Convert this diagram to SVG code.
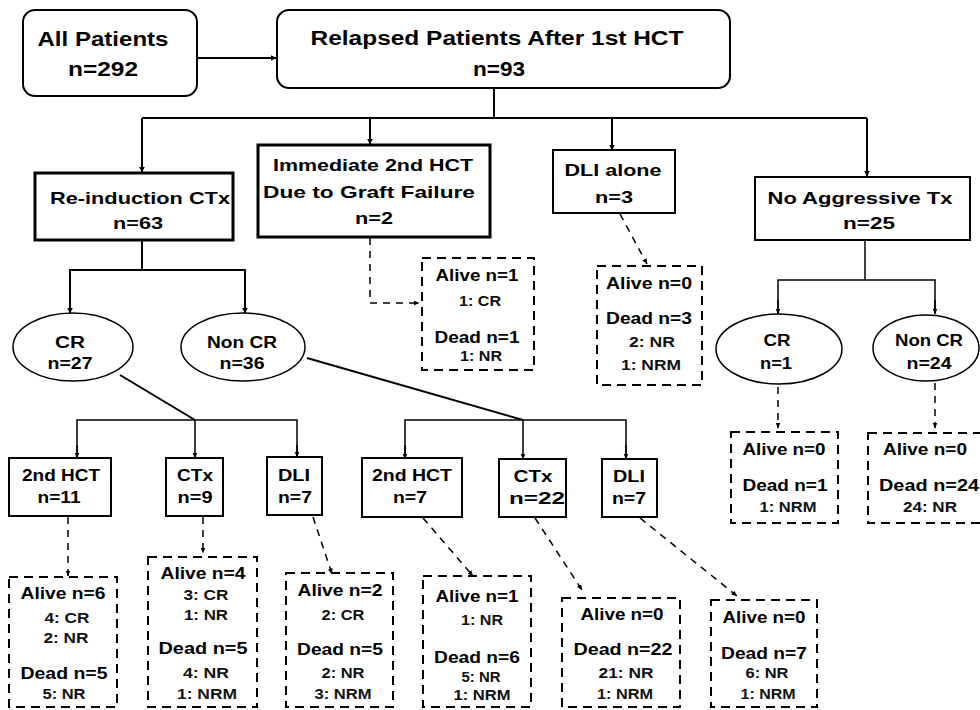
<svg xmlns="http://www.w3.org/2000/svg" width="980" height="710" viewBox="0 0 980 710">
<defs>
<marker id="ah" viewBox="0 0 10 10" refX="9" refY="5" markerWidth="6" markerHeight="6" orient="auto" markerUnits="userSpaceOnUse">
<path d="M0,0 L10,5 L0,10 z" fill="#000"/>
</marker>
<marker id="ahs" viewBox="0 0 10 10" refX="9" refY="5" markerWidth="6" markerHeight="6" orient="auto" markerUnits="userSpaceOnUse">
<path d="M0,1 L10,5 L0,9 z" fill="#000"/>
</marker>
</defs>
<style>
text{font-family:"Liberation Sans",Arial,sans-serif;font-weight:bold;fill:#000;text-anchor:middle}
.t1{font-size:20px}
.t2{font-size:17px}
.t3{font-size:16px}
.t5{font-size:16px}
.t4{font-size:15px;fill:#111}
.rr{fill:#fff;stroke:#000;stroke-width:2}
.bx{fill:#fff;stroke:#000;stroke-width:3}
.sb{fill:#fff;stroke:#000;stroke-width:2}
.el{fill:#fff;stroke:#000;stroke-width:1.5}
.db{fill:#fff;stroke:#000;stroke-width:2;stroke-dasharray:9,6}
.ln{fill:none;stroke:#000;stroke-width:2}
.lt{fill:none;stroke:#000;stroke-width:1.5}
.dl{fill:none;stroke:#000;stroke-width:1.5;stroke-dasharray:7,6}
</style>
<rect width="980" height="710" fill="#fff"/>
<g id="connectors">
<line class="ln" x1="197" y1="58" x2="276" y2="58" marker-end="url(#ah)"/>
<line class="ln" x1="494" y1="88" x2="494" y2="118"/>
<line class="ln" x1="142" y1="118" x2="867" y2="118"/>
<line class="ln" x1="142" y1="118" x2="142" y2="172" marker-end="url(#ah)"/>
<line class="ln" x1="370" y1="118" x2="370" y2="144" marker-end="url(#ah)"/>
<line class="ln" x1="612" y1="118" x2="612" y2="150" marker-end="url(#ah)"/>
<line class="ln" x1="867" y1="118" x2="867" y2="176" marker-end="url(#ah)"/>
<polyline class="ln" points="142,240 142,270"/>
<polyline class="ln" points="70,312 70,270 245,270 245,312"/>
<line x1="70" y1="300" x2="70" y2="313" class="ln" marker-end="url(#ah)"/>
<line x1="245" y1="300" x2="245" y2="313" class="ln" marker-end="url(#ah)"/>
<polyline class="dl" points="370,238 370,303 419,303" marker-end="url(#ahs)"/>
<line class="dl" x1="620" y1="214" x2="647" y2="264" marker-end="url(#ahs)"/>
<line class="lt" x1="865" y1="240" x2="865" y2="280"/>
<polyline class="lt" points="778,313 778,280 935,280 935,313"/>
<line x1="778" y1="300" x2="778" y2="314" class="lt" marker-end="url(#ahs)"/>
<line x1="935" y1="300" x2="935" y2="314" class="lt" marker-end="url(#ahs)"/>
<line class="dl" x1="778" y1="387" x2="778" y2="428" marker-end="url(#ahs)"/>
<line class="dl" x1="935" y1="383" x2="935" y2="428" marker-end="url(#ahs)"/>
<line class="ln" x1="120" y1="375" x2="195" y2="420"/>
<polyline class="lt" points="77,457 77,420 297,420 297,457"/>
<line x1="77" y1="445" x2="77" y2="458" class="lt" marker-end="url(#ahs)"/>
<line x1="195" y1="420" x2="195" y2="458" class="lt" marker-end="url(#ahs)"/>
<line x1="297" y1="445" x2="297" y2="457" class="lt" marker-end="url(#ahs)"/>
<line class="ln" x1="307" y1="358" x2="523" y2="420"/>
<polyline class="lt" points="405,458 405,420 626,420 626,458"/>
<line x1="405" y1="445" x2="405" y2="459" class="lt" marker-end="url(#ahs)"/>
<line x1="523" y1="420" x2="523" y2="459" class="lt" marker-end="url(#ahs)"/>
<line x1="626" y1="445" x2="626" y2="459" class="lt" marker-end="url(#ahs)"/>
<line class="dl" x1="68" y1="517" x2="68" y2="576" marker-end="url(#ahs)"/>
<line class="dl" x1="203" y1="517" x2="203" y2="553" marker-end="url(#ahs)"/>
<line class="dl" x1="313" y1="517" x2="332" y2="574" marker-end="url(#ahs)"/>
<line class="dl" x1="423" y1="518" x2="473" y2="576" marker-end="url(#ahs)"/>
<line class="dl" x1="535" y1="518" x2="582" y2="590" marker-end="url(#ahs)"/>
<line class="dl" x1="640" y1="518" x2="737" y2="596" marker-end="url(#ahs)"/>
</g>
<g id="all-patients">
<rect class="rr" x="23" y="10" width="174" height="86" rx="12"/>
<text class="t1" x="103" y="46" textLength="131" lengthAdjust="spacingAndGlyphs">All Patients</text>
<text class="t1" x="103" y="76" textLength="70" lengthAdjust="spacingAndGlyphs">n=292</text>
</g>
<g id="relapsed">
<rect class="rr" x="277" y="10" width="453" height="78" rx="12"/>
<text class="t1" x="497" y="45" textLength="373" lengthAdjust="spacingAndGlyphs">Relapsed Patients After 1st HCT</text>
<text class="t1" x="499" y="76" textLength="52" lengthAdjust="spacingAndGlyphs">n=93</text>
</g>
<g id="reinduction">
<rect class="bx" x="35" y="173" width="198" height="67"/>
<text class="t2" x="140" y="204" textLength="180" lengthAdjust="spacingAndGlyphs">Re-induction CTx</text>
<text class="t2" x="138" y="229" textLength="50" lengthAdjust="spacingAndGlyphs">n=63</text>
</g>
<g id="immediate">
<rect class="bx" x="258" y="145" width="232" height="92"/>
<text class="t2" x="373" y="171" textLength="200" lengthAdjust="spacingAndGlyphs">Immediate 2nd HCT</text>
<text class="t2" x="369" y="198" textLength="212" lengthAdjust="spacingAndGlyphs">Due to Graft Failure</text>
<text class="t2" x="374" y="224" textLength="38" lengthAdjust="spacingAndGlyphs">n=2</text>
</g>
<g id="dli-alone">
<rect class="sb" x="553" y="150" width="122" height="63"/>
<text class="t2" x="613" y="176" textLength="97" lengthAdjust="spacingAndGlyphs">DLI alone</text>
<text class="t2" x="614" y="203" textLength="38" lengthAdjust="spacingAndGlyphs">n=3</text>
</g>
<g id="no-aggressive">
<rect class="sb" x="755" y="177" width="215" height="63"/>
<text class="t2" x="860" y="204" textLength="185" lengthAdjust="spacingAndGlyphs">No Aggressive Tx</text>
<text class="t2" x="869" y="229" textLength="52" lengthAdjust="spacingAndGlyphs">n=25</text>
</g>
<g id="imm-result">
<rect class="db" x="422" y="258" width="112" height="112"/>
<text class="t5" x="477" y="281" textLength="83" lengthAdjust="spacingAndGlyphs">Alive n=1</text>
<text class="t4" x="480" y="306" textLength="42" lengthAdjust="spacingAndGlyphs">1: CR</text>
<text class="t5" x="477" y="343" textLength="85" lengthAdjust="spacingAndGlyphs">Dead n=1</text>
<text class="t4" x="481" y="361" textLength="42" lengthAdjust="spacingAndGlyphs">1: NR</text>
</g>
<g id="dli-alone-result">
<rect class="db" x="597" y="266" width="105" height="119"/>
<text class="t5" x="649" y="289" textLength="86" lengthAdjust="spacingAndGlyphs">Alive n=0</text>
<text class="t5" x="649" y="324" textLength="86" lengthAdjust="spacingAndGlyphs">Dead n=3</text>
<text class="t4" x="652" y="347" textLength="46" lengthAdjust="spacingAndGlyphs">2: NR</text>
<text class="t4" x="651" y="370" textLength="60" lengthAdjust="spacingAndGlyphs">1: NRM</text>
</g>
<g id="cr-left">
<ellipse class="el" cx="73" cy="347" rx="60" ry="34"/>
<text class="t3" x="70" y="348" textLength="30" lengthAdjust="spacingAndGlyphs">CR</text>
<text class="t3" x="70" y="369" textLength="45" lengthAdjust="spacingAndGlyphs">n=27</text>
</g>
<g id="noncr-left">
<ellipse class="el" cx="243" cy="347" rx="62" ry="34"/>
<text class="t3" x="242" y="348" textLength="70" lengthAdjust="spacingAndGlyphs">Non CR</text>
<text class="t3" x="242" y="369" textLength="45" lengthAdjust="spacingAndGlyphs">n=36</text>
</g>
<g id="cr-right">
<ellipse class="el" cx="779" cy="349" rx="63" ry="35"/>
<text class="t3" x="777" y="346" textLength="27" lengthAdjust="spacingAndGlyphs">CR</text>
<text class="t3" x="776" y="369" textLength="32" lengthAdjust="spacingAndGlyphs">n=1</text>
</g>
<g id="noncr-right">
<ellipse class="el" cx="926" cy="348" rx="53" ry="33"/>
<text class="t3" x="929" y="346" textLength="68" lengthAdjust="spacingAndGlyphs">Non CR</text>
<text class="t3" x="929" y="369" textLength="45" lengthAdjust="spacingAndGlyphs">n=24</text>
</g>
<g id="cr-right-result">
<rect class="db" x="731" y="432" width="107" height="91"/>
<text class="t5" x="784" y="455" textLength="83" lengthAdjust="spacingAndGlyphs">Alive n=0</text>
<text class="t5" x="785" y="491" textLength="85" lengthAdjust="spacingAndGlyphs">Dead n=1</text>
<text class="t4" x="788" y="512" textLength="57" lengthAdjust="spacingAndGlyphs">1: NRM</text>
</g>
<g id="noncr-right-result">
<rect class="db" x="868" y="433" width="116" height="90"/>
<text class="t5" x="925" y="455" textLength="84" lengthAdjust="spacingAndGlyphs">Alive n=0</text>
<text class="t5" x="929" y="491" textLength="100" lengthAdjust="spacingAndGlyphs">Dead n=24</text>
<text class="t4" x="930" y="512" textLength="54" lengthAdjust="spacingAndGlyphs">24: NR</text>
</g>
<g id="hct-11">
<rect class="sb" x="9" y="458" width="102" height="58"/>
<text class="t3" x="61" y="481" textLength="78" lengthAdjust="spacingAndGlyphs">2nd HCT</text>
<text class="t3" x="59" y="503" textLength="43" lengthAdjust="spacingAndGlyphs">n=11</text>
</g>
<g id="ctx-9">
<rect class="sb" x="166" y="458" width="57" height="58"/>
<text class="t3" x="195" y="481" textLength="36" lengthAdjust="spacingAndGlyphs">CTx</text>
<text class="t3" x="195" y="503" textLength="35" lengthAdjust="spacingAndGlyphs">n=9</text>
</g>
<g id="dli-7a">
<rect class="sb" x="267" y="457" width="55" height="58"/>
<text class="t3" x="294" y="481" textLength="32" lengthAdjust="spacingAndGlyphs">DLI</text>
<text class="t3" x="295" y="503" textLength="34" lengthAdjust="spacingAndGlyphs">n=7</text>
</g>
<g id="hct-7">
<rect class="sb" x="362" y="458" width="100" height="59"/>
<text class="t3" x="412" y="481" textLength="80" lengthAdjust="spacingAndGlyphs">2nd HCT</text>
<text class="t3" x="410" y="503" textLength="34" lengthAdjust="spacingAndGlyphs">n=7</text>
</g>
<g id="ctx-22">
<rect class="sb" x="499" y="459" width="67" height="58"/>
<text class="t3" x="533" y="482" textLength="39" lengthAdjust="spacingAndGlyphs">CTx</text>
<text class="t3" x="537" y="504" textLength="56" lengthAdjust="spacingAndGlyphs">n=22</text>
</g>
<g id="dli-7b">
<rect class="sb" x="602" y="459" width="55" height="58"/>
<text class="t3" x="629" y="482" textLength="32" lengthAdjust="spacingAndGlyphs">DLI</text>
<text class="t3" x="629" y="504" textLength="34" lengthAdjust="spacingAndGlyphs">n=7</text>
</g>
<g id="res-hct-11">
<rect class="db" x="9" y="577" width="108" height="130"/>
<text class="t5" x="63" y="599" textLength="85" lengthAdjust="spacingAndGlyphs">Alive n=6</text>
<text class="t4" x="67" y="623" textLength="45" lengthAdjust="spacingAndGlyphs">4: CR</text>
<text class="t4" x="66" y="643" textLength="45" lengthAdjust="spacingAndGlyphs">2: NR</text>
<text class="t5" x="64" y="679" textLength="87" lengthAdjust="spacingAndGlyphs">Dead n=5</text>
<text class="t4" x="64" y="699" textLength="43" lengthAdjust="spacingAndGlyphs">5: NR</text>
</g>
<g id="res-ctx-9">
<rect class="db" x="148" y="557" width="109" height="150"/>
<text class="t5" x="203" y="579" textLength="85" lengthAdjust="spacingAndGlyphs">Alive n=4</text>
<text class="t4" x="206" y="600" textLength="45" lengthAdjust="spacingAndGlyphs">3: CR</text>
<text class="t4" x="206" y="620" textLength="44" lengthAdjust="spacingAndGlyphs">1: NR</text>
<text class="t5" x="203" y="654" textLength="89" lengthAdjust="spacingAndGlyphs">Dead n=5</text>
<text class="t4" x="206" y="678" textLength="46" lengthAdjust="spacingAndGlyphs">4: NR</text>
<text class="t4" x="207" y="699" textLength="60" lengthAdjust="spacingAndGlyphs">1: NRM</text>
</g>
<g id="res-dli-7a">
<rect class="db" x="286" y="573" width="107" height="134"/>
<text class="t5" x="340" y="596" textLength="85" lengthAdjust="spacingAndGlyphs">Alive n=2</text>
<text class="t4" x="343" y="620" textLength="43" lengthAdjust="spacingAndGlyphs">2: CR</text>
<text class="t5" x="340" y="655" textLength="86" lengthAdjust="spacingAndGlyphs">Dead n=5</text>
<text class="t4" x="343" y="678" textLength="43" lengthAdjust="spacingAndGlyphs">2: NR</text>
<text class="t4" x="343" y="699" textLength="57" lengthAdjust="spacingAndGlyphs">3: NRM</text>
</g>
<g id="res-hct-7">
<rect class="db" x="423" y="576" width="108" height="131"/>
<text class="t5" x="477" y="602" textLength="83" lengthAdjust="spacingAndGlyphs">Alive n=1</text>
<text class="t4" x="482" y="625" textLength="42" lengthAdjust="spacingAndGlyphs">1: NR</text>
<text class="t5" x="477" y="663" textLength="86" lengthAdjust="spacingAndGlyphs">Dead n=6</text>
<text class="t4" x="481" y="682" textLength="39" lengthAdjust="spacingAndGlyphs">5: NR</text>
<text class="t4" x="482" y="700" textLength="57" lengthAdjust="spacingAndGlyphs">1: NRM</text>
</g>
<g id="res-ctx-22">
<rect class="db" x="562" y="598" width="118" height="109"/>
<text class="t5" x="622" y="620" textLength="83" lengthAdjust="spacingAndGlyphs">Alive n=0</text>
<text class="t5" x="623" y="655" textLength="99" lengthAdjust="spacingAndGlyphs">Dead n=22</text>
<text class="t4" x="626" y="678" textLength="55" lengthAdjust="spacingAndGlyphs">21: NR</text>
<text class="t4" x="625" y="699" textLength="56" lengthAdjust="spacingAndGlyphs">1: NRM</text>
</g>
<g id="res-dli-7b">
<rect class="db" x="711" y="600" width="106" height="107"/>
<text class="t5" x="764" y="623" textLength="83" lengthAdjust="spacingAndGlyphs">Alive n=0</text>
<text class="t5" x="764" y="659" textLength="86" lengthAdjust="spacingAndGlyphs">Dead n=7</text>
<text class="t4" x="767" y="678" textLength="43" lengthAdjust="spacingAndGlyphs">6: NR</text>
<text class="t4" x="768" y="699" textLength="55" lengthAdjust="spacingAndGlyphs">1: NRM</text>
</g>
</svg>
